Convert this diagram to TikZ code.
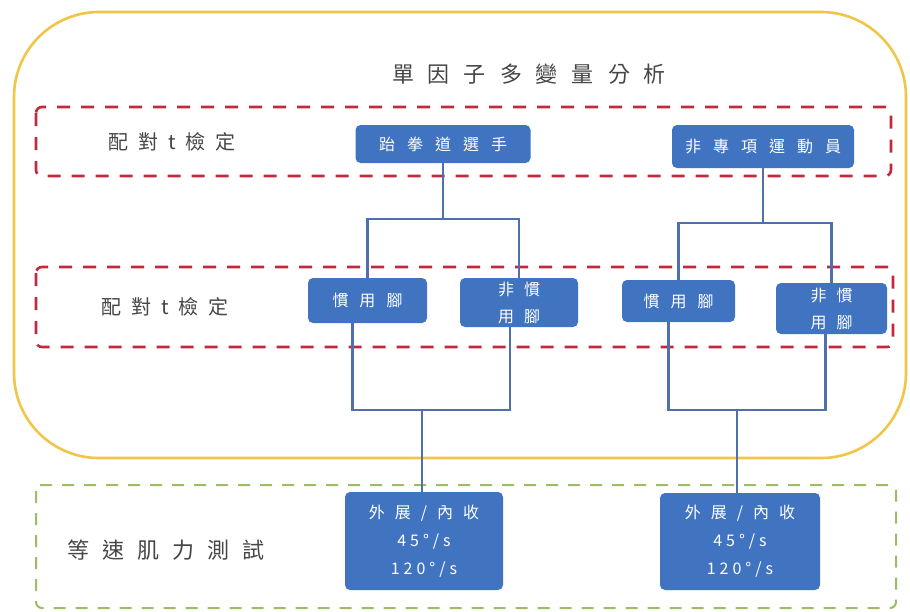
\documentclass[tikz,border=0pt]{standalone}
\usepackage{fontspec}
\setmainfont{Noto Sans CJK TC}
\usetikzlibrary{calc}
\definecolor{ygold}{RGB}{240,198,72}
\definecolor{rdash}{RGB}{196,40,62}
\definecolor{gdash}{RGB}{155,190,100}
\definecolor{bfill}{RGB}{64,115,192}
\definecolor{cline}{RGB}{80,112,172}
\definecolor{ltext}{RGB}{70,70,70}
\ExplSyntaxOn
\NewDocumentCommand\lsp{mm}{
  \bool_set_false:N \l_tmpa_bool
  \tl_map_inline:nn {#2}
    {
      \bool_if:NT \l_tmpa_bool { \hspace{#1} }
      \bool_set_true:N \l_tmpa_bool
      ##1
    }
}
\ExplSyntaxOff
\tikzset{
  bluebox/.style={draw=none, fill=bfill, rounded corners=5pt, text=white,
    inner sep=0pt, align=center, font=\fontsize{16}{27}\selectfont},
  conn/.style={draw=cline, line width=2.6pt},
  reddash/.style={draw=rdash, line width=2.6pt, dash pattern=on 13pt off 11pt, rounded corners=6pt},
  greendash/.style={draw=gdash, line width=2pt, dash pattern=on 12pt off 10pt, rounded corners=6pt},
  lbl/.style={text=ltext, inner sep=0pt}
}
\begin{document}
\begin{tikzpicture}[x=1pt,y=-1pt]
\useasboundingbox (0,0) rectangle (910,611);
\fill[white] (0,0) rectangle (910,611);
% outer yellow frame
\draw[draw=ygold, line width=2.6pt, rounded corners=85pt] (14,12) rectangle (906,458);
\node[lbl, font=\fontsize{22}{24}\selectfont] (title) at (529,74) {\lsp{14pt}{單因子多變量分析}};
% dashed frames
\draw[reddash] (36,107) rectangle (891,176);
\draw[reddash] (36,267) rectangle (893,347);
\draw[greendash] (36,485) rectangle (896,608);
% labels
\node[lbl, font=\fontsize{20}{22}\selectfont] (l1) at (172,142) {\lsp{10pt}{配對t檢定}};
\node[lbl, font=\fontsize{20}{22}\selectfont] (l2) at (165,307) {\lsp{10pt}{配對t檢定}};
\node[lbl, font=\fontsize{22}{24}\selectfont] (l3) at (166,550) {\lsp{13pt}{等速肌力測試}};
% level 1 boxes
\node[bluebox, minimum width=175pt, minimum height=38pt] (A) at (443,144) {\lsp{12pt}{跆拳道選手}};
\node[bluebox, minimum width=182pt, minimum height=43pt] (B) at (763,146.5) {\lsp{12pt}{非專項運動員}};
% level 2 boxes
\node[bluebox, minimum width=119pt, minimum height=45pt] (C) at (367.5,300.5) {\lsp{11pt}{慣用腳}};
\node[bluebox, minimum width=118pt, minimum height=49pt] (D) at (519,302.5) {\lsp{10pt}{非慣}\\\lsp{10pt}{用腳}};
\node[bluebox, minimum width=113pt, minimum height=42pt] (E) at (678.5,301) {\lsp{11pt}{慣用腳}};
\node[bluebox, minimum width=111pt, minimum height=51pt] (F) at (831.5,308.5) {\lsp{10pt}{非慣}\\\lsp{10pt}{用腳}};
% bottom boxes
\node[bluebox, minimum width=158pt, minimum height=98pt, font=\fontsize{16}{28}\selectfont] (G) at (424,541)
  {\lsp{10pt}{外展/內收}\\\lsp{4pt}{45°/s}\\\lsp{4pt}{120°/s}};
\node[bluebox, minimum width=160pt, minimum height=97pt, font=\fontsize{16}{28}\selectfont] (H) at (740,541.5)
  {\lsp{10pt}{外展/內收}\\\lsp{4pt}{45°/s}\\\lsp{4pt}{120°/s}};
% connectors top
\coordinate (ja) at (443,219);
\coordinate (jb) at (763,223);
\draw[conn] (A.south) -- (ja);
\draw[conn] (C.north) |- (ja) -| (D.north);
\draw[conn] (B.south) -- (jb);
\draw[conn] (E.north) |- (jb) -| (F.north);
% connectors bottom
\coordinate (jg) at (422,410);
\coordinate (jh) at (737,410);
\draw[conn] ($(C.south)+(-15,0)$) |- (jg) -| ($(D.south)+(-9,0)$);
\draw[conn] (jg) -- (jg |- G.north);
\draw[conn] ($(E.south)+(-10,0)$) |- (jh) -| ($(F.south)+(-6,0)$);
\draw[conn] (jh) -- (jh |- H.north);
\end{tikzpicture}
\end{document}
